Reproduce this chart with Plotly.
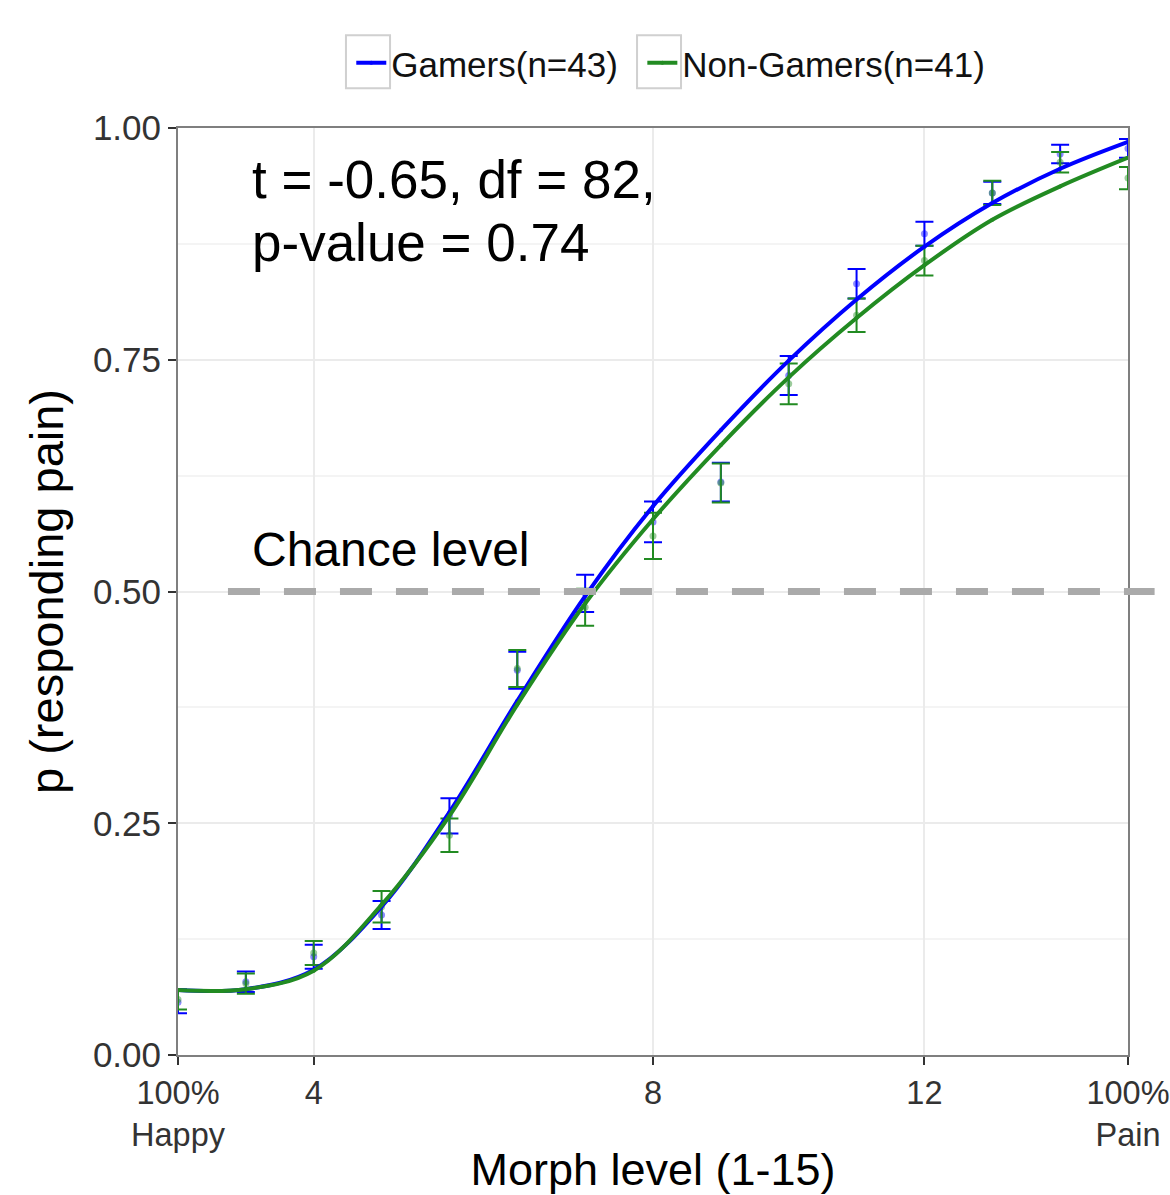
import plotly.graph_objects as go

# ---------------- data ----------------
levels = list(range(1, 16))
tick_vals = [1, 3, 8, 12, 15]
tick_text = ["100%<br>Happy", "4", "8", "12", "100%<br>Pain"]
y_ticks = [0, 0.25, 0.5, 0.75, 1.0]

gamers_mean = [0.057, 0.079, 0.106, 0.151, 0.258, 0.415, 0.498, 0.575, 0.618,
               0.733, 0.832, 0.886, 0.930, 0.972, 0.978]
gamers_err = [0.012, 0.011, 0.013, 0.015, 0.019, 0.020, 0.020, 0.022, 0.021,
              0.021, 0.016, 0.013, 0.012, 0.010, 0.010]
nongamers_mean = [0.060, 0.077, 0.110, 0.160, 0.237, 0.417, 0.483, 0.560, 0.617,
                  0.724, 0.798, 0.857, 0.930, 0.963, 0.946]
nongamers_err = [0.011, 0.011, 0.013, 0.017, 0.018, 0.020, 0.020, 0.025, 0.021,
                 0.022, 0.018, 0.016, 0.013, 0.011, 0.012]

gamers_fit = [0.070, 0.071, 0.092, 0.160, 0.262, 0.382, 0.495, 0.592, 0.674,
              0.749, 0.815, 0.872, 0.919, 0.956, 0.985]
nongamers_fit = [0.070, 0.071, 0.091, 0.162, 0.258, 0.378, 0.487, 0.578, 0.658,
                 0.731, 0.795, 0.852, 0.901, 0.937, 0.968]

chance = 0.5
names = ["Gamers(n=43)", "Non-Gamers(n=41)"]
stats_lines = ["t = -0.65, df = 82,", "p-value = 0.74"]

BLUE = "#0000FF"
GREEN = "#228B22"
FONT = "Liberation Sans, Arial, sans-serif"
NBSP = "\u00a0"

fig = go.Figure()

# observed means with error bars
for mean, err, col in [(gamers_mean, gamers_err, BLUE),
                       (nongamers_mean, nongamers_err, GREEN)]:
    fig.add_trace(go.Scatter(
        x=levels, y=mean, mode="markers", showlegend=False,
        marker=dict(color=col, size=7, opacity=0.45),
        error_y=dict(type="data", array=err, visible=True, color=col,
                     thickness=2, width=9),
    ))

# fitted curves
for fit, col, nm in [(gamers_fit, BLUE, names[0] + NBSP * 2),
                     (nongamers_fit, GREEN, names[1])]:
    fig.add_trace(go.Scatter(
        x=levels, y=fit, mode="lines+markers", name=nm,
        line=dict(color=col, width=4, shape="spline", smoothing=1.0),
        marker=dict(color=col, size=4),
    ))

# chance level dashed line (paper coords so it can run past the frame)
fig.add_shape(type="line", xref="paper", yref="paper",
              x0=0.0526, x1=1.028, y0=chance, y1=chance,
              line=dict(color="#AAAAAA", width=7, dash="32px,24px"))

# legend key boxes
for x0, x1 in [(0.1768, 0.2232), (0.4832, 0.5295)]:
    fig.add_shape(type="rect", xref="paper", yref="paper",
                  x0=x0, x1=x1, y0=1.043, y1=1.100,
                  line=dict(color="#D0D0D0", width=2), fillcolor="rgba(0,0,0,0)")

# annotations
fig.add_annotation(x=2.06, y=0.944, xref="x", yref="paper", text=stats_lines[0],
                   showarrow=False, xanchor="left", yanchor="middle",
                   font=dict(size=53, color="black", family=FONT))
fig.add_annotation(x=2.06, y=0.876, xref="x", yref="paper", text=stats_lines[1],
                   showarrow=False, xanchor="left", yanchor="middle",
                   font=dict(size=53, color="black", family=FONT))
fig.add_annotation(x=2.06, y=0.545, xref="x", yref="paper", text="Chance level",
                   showarrow=False, xanchor="left", yanchor="middle",
                   font=dict(size=48, color="black", family=FONT))

fig.update_layout(
    width=1170, height=1195,
    margin=dict(l=178, r=42, t=128, b=140, pad=0, autoexpand=False),
    paper_bgcolor="white", plot_bgcolor="white",
    font=dict(family=FONT, color="#333333"),
    legend=dict(orientation="h", x=0.1824, xanchor="left", y=1.070, yanchor="middle",
                font=dict(size=35, color="#111111", family=FONT),
                bgcolor="rgba(0,0,0,0)", itemwidth=30, tracegroupgap=0),
    xaxis=dict(
        range=[1, 15], tickmode="array", tickvals=tick_vals, ticktext=tick_text,
        automargin=False, ticklabeloverflow="allow",
        showgrid=True, gridcolor="#EBEBEB", gridwidth=2, zeroline=False,
        showline=True, linecolor="#7F7F7F", linewidth=2, mirror=True,
        ticks="outside", ticklen=8, tickwidth=2, tickcolor="#333333",
        tickfont=dict(size=32.5, color="#333333"),
        title=dict(text="Morph level (1-15)", font=dict(size=45, color="black"), standoff=8),
    ),
    yaxis=dict(
        range=[0, 1], tickmode="array", tickvals=y_ticks, tickformat=".2f",
        automargin=False,
        showgrid=True, gridcolor="#EBEBEB", gridwidth=2, zeroline=False,
        showline=True, linecolor="#7F7F7F", linewidth=2, mirror=True,
        ticks="outside", ticklen=8, tickwidth=2, tickcolor="#333333",
        tickfont=dict(size=35, color="#333333"),
        title=dict(text="p (responding pain)", font=dict(size=47, color="black"), standoff=14),
        minor=dict(tickmode="array", tickvals=[0.125, 0.375, 0.625, 0.875], showgrid=True,
                   gridcolor="#F4F4F4", gridwidth=2, ticks=""),
    ),
)

fig.write_html("out.html")
